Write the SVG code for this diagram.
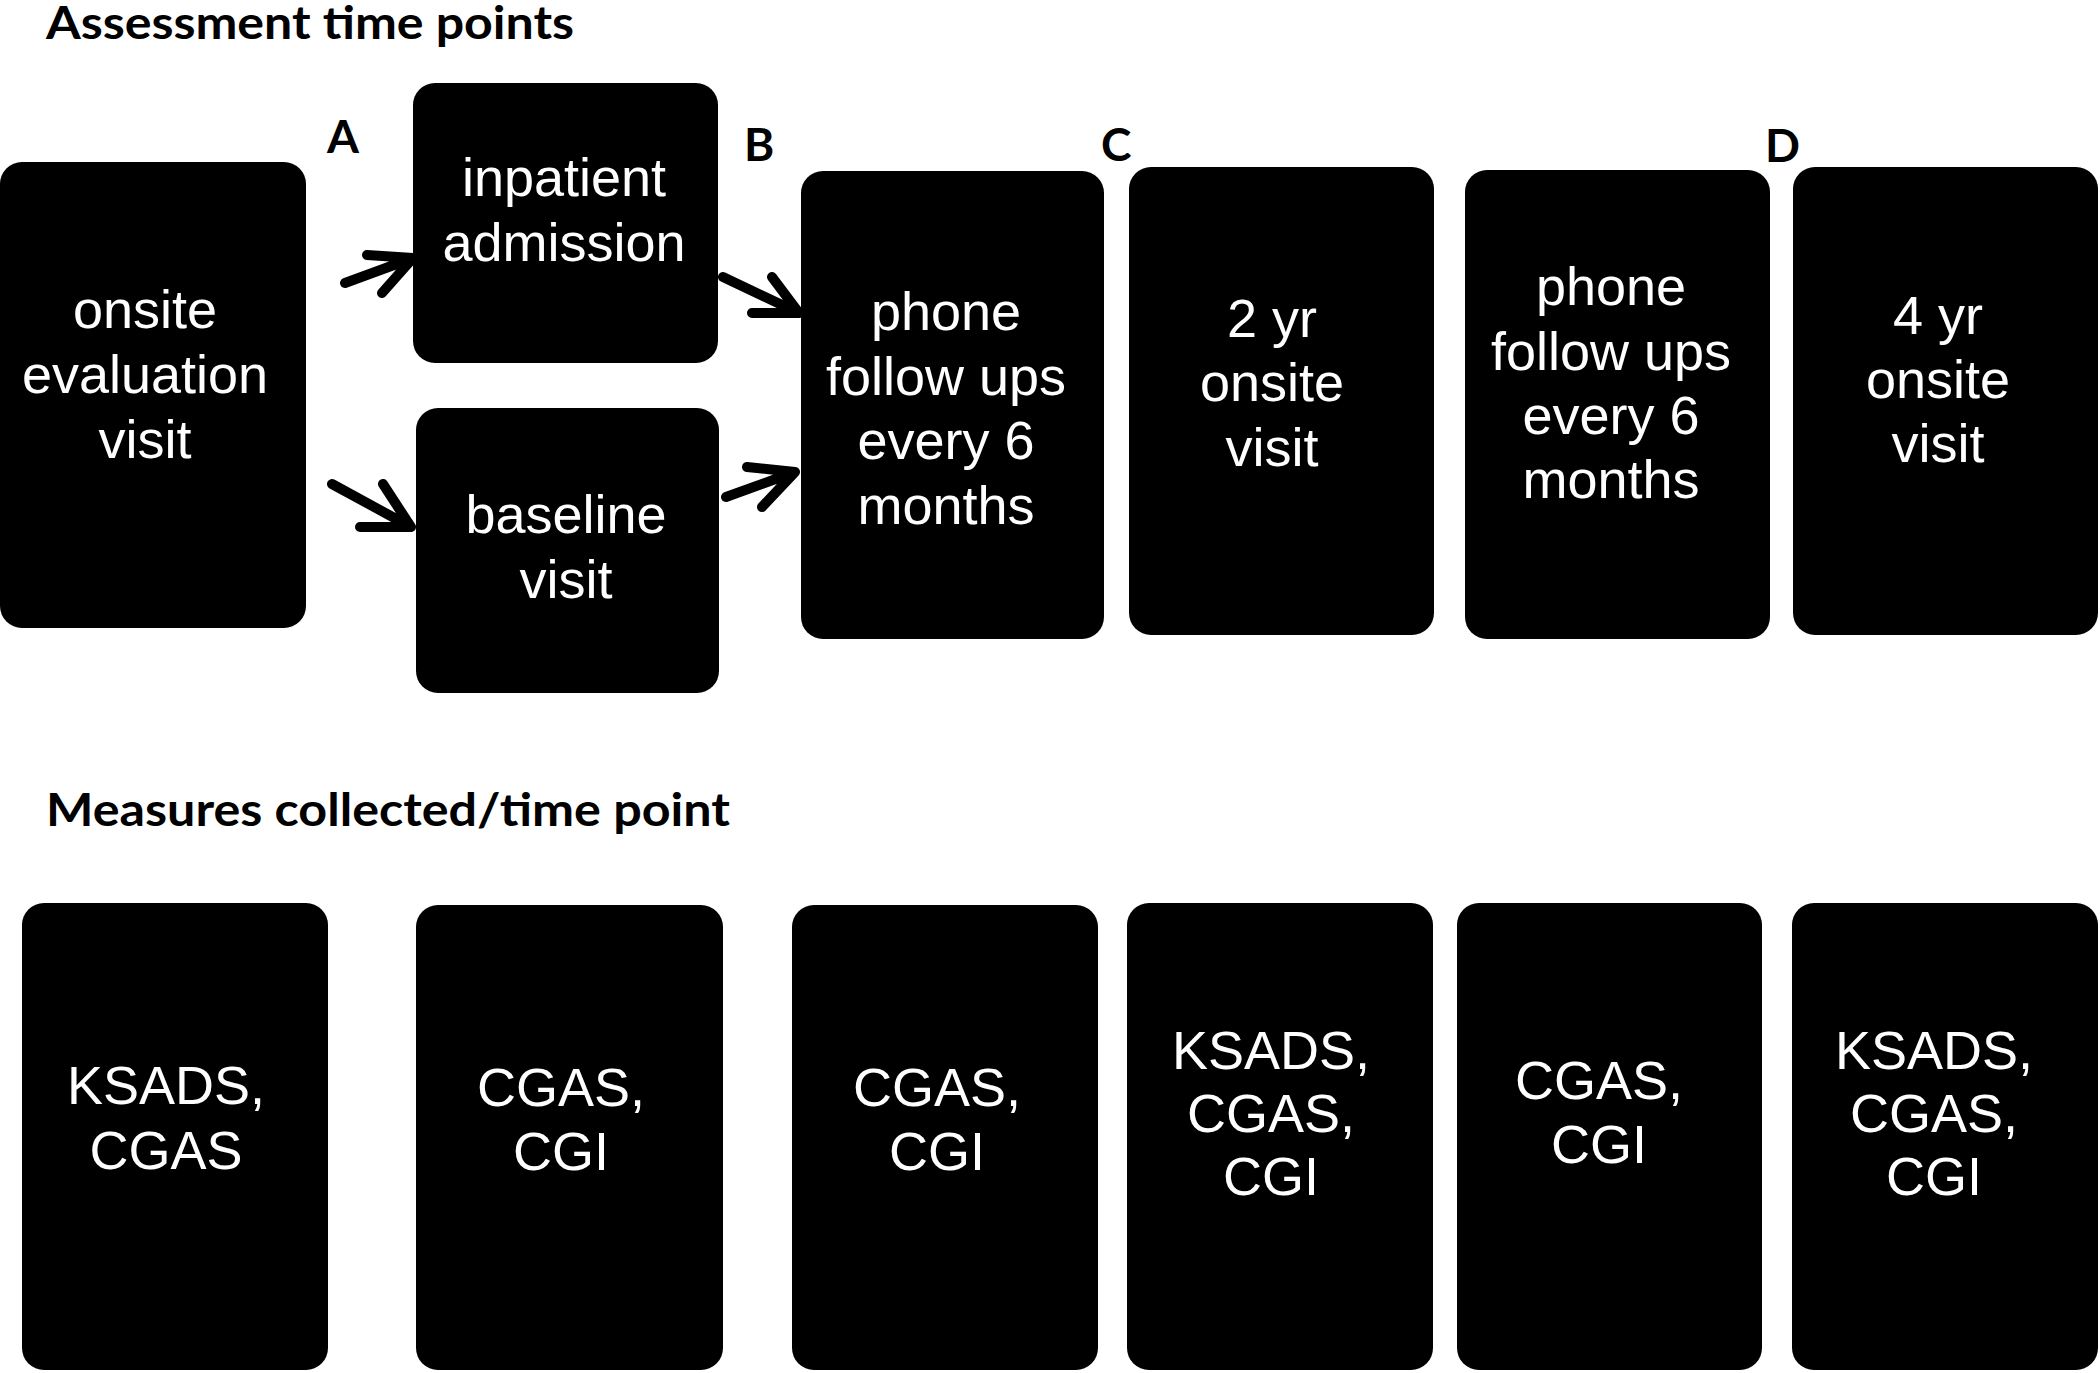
<svg xmlns="http://www.w3.org/2000/svg" width="2100" height="1373" viewBox="0 0 2100 1373">
<style>
.box{fill:#000;}
.t{font-family:"Liberation Sans",Arial,sans-serif;font-size:54px;fill:#fff;text-anchor:middle;}
.h{font-family:Lato,"Liberation Sans",sans-serif;font-weight:bold;font-size:45px;fill:#000;}
.lbl{font-family:Lato,"Liberation Sans",sans-serif;font-weight:bold;font-size:46px;fill:#000;}
.arr{fill:none;stroke:#000;stroke-width:10;stroke-linecap:round;stroke-linejoin:round;}
</style>
<rect width="2100" height="1373" fill="#fff"/>
<text class="h" x="46" y="39" textLength="528" lengthAdjust="spacingAndGlyphs">Assessment time points</text>
<text class="h" x="46" y="826" textLength="684" lengthAdjust="spacingAndGlyphs">Measures collected/time point</text>
<g id="labels">
<text class="lbl" x="327" y="153">A</text>
<text class="lbl" x="744" y="161">B</text>
<text class="lbl" x="1101" y="161">C</text>
<text class="lbl" x="1765" y="162">D</text>
</g>
<g id="onsite-evaluation">
<rect class="box" x="0" y="162" width="306" height="466" rx="22"/>
<text class="t" x="145" y="328">onsite</text>
<text class="t" x="145" y="393">evaluation</text>
<text class="t" x="145" y="458">visit</text>
</g>
<g id="inpatient">
<rect class="box" x="413" y="83" width="305" height="280" rx="22"/>
<text class="t" x="564" y="196">inpatient</text>
<text class="t" x="564" y="261">admission</text>
</g>
<g id="baseline">
<rect class="box" x="416" y="408" width="303" height="285" rx="22"/>
<text class="t" x="566" y="533">baseline</text>
<text class="t" x="566" y="598">visit</text>
</g>
<g id="phone1">
<rect class="box" x="801" y="171" width="303" height="468" rx="22"/>
<text class="t" x="946" y="330">phone</text>
<text class="t" x="946" y="395">follow ups</text>
<text class="t" x="946" y="459">every 6</text>
<text class="t" x="946" y="524">months</text>
</g>
<g id="yr2">
<rect class="box" x="1129" y="167" width="305" height="468" rx="22"/>
<text class="t" x="1272" y="337">2 yr</text>
<text class="t" x="1272" y="401">onsite</text>
<text class="t" x="1272" y="466">visit</text>
</g>
<g id="phone2">
<rect class="box" x="1465" y="170" width="305" height="469" rx="22"/>
<text class="t" x="1611" y="305">phone</text>
<text class="t" x="1611" y="370">follow ups</text>
<text class="t" x="1611" y="434">every 6</text>
<text class="t" x="1611" y="498">months</text>
</g>
<g id="yr4">
<rect class="box" x="1793" y="167" width="305" height="468" rx="22"/>
<text class="t" x="1938" y="334">4 yr</text>
<text class="t" x="1938" y="398">onsite</text>
<text class="t" x="1938" y="462">visit</text>
</g>
<g id="connectors">
<path class="arr" d="M345,283 L413,258 M367,255 L413,258 L382,293"/>
<path class="arr" d="M332,484 L411,527 M360,527 L411,527 L383,484"/>
<path class="arr" d="M723,277 L799,313 M752,313 L799,313 L772,277"/>
<path class="arr" d="M726,497 L795,472 M747,467 L795,472 L762,507"/>
</g>
<g id="m1">
<rect class="box" x="22" y="903" width="306" height="467" rx="22"/>
<text class="t" x="166" y="1104">KSADS,</text>
<text class="t" x="166" y="1169">CGAS</text>
</g>
<g id="m2">
<rect class="box" x="416" y="905" width="307" height="465" rx="22"/>
<text class="t" x="561" y="1106">CGAS,</text>
<text class="t" x="561" y="1170">CGI</text>
</g>
<g id="m3">
<rect class="box" x="792" y="905" width="306" height="465" rx="22"/>
<text class="t" x="937" y="1106">CGAS,</text>
<text class="t" x="937" y="1170">CGI</text>
</g>
<g id="m4">
<rect class="box" x="1127" y="903" width="306" height="467" rx="22"/>
<text class="t" x="1271" y="1069">KSADS,</text>
<text class="t" x="1271" y="1132">CGAS,</text>
<text class="t" x="1271" y="1195">CGI</text>
</g>
<g id="m5">
<rect class="box" x="1457" y="903" width="305" height="467" rx="22"/>
<text class="t" x="1599" y="1099">CGAS,</text>
<text class="t" x="1599" y="1163">CGI</text>
</g>
<g id="m6">
<rect class="box" x="1792" y="903" width="306" height="467" rx="22"/>
<text class="t" x="1934" y="1069">KSADS,</text>
<text class="t" x="1934" y="1132">CGAS,</text>
<text class="t" x="1934" y="1195">CGI</text>
</g>
</svg>
